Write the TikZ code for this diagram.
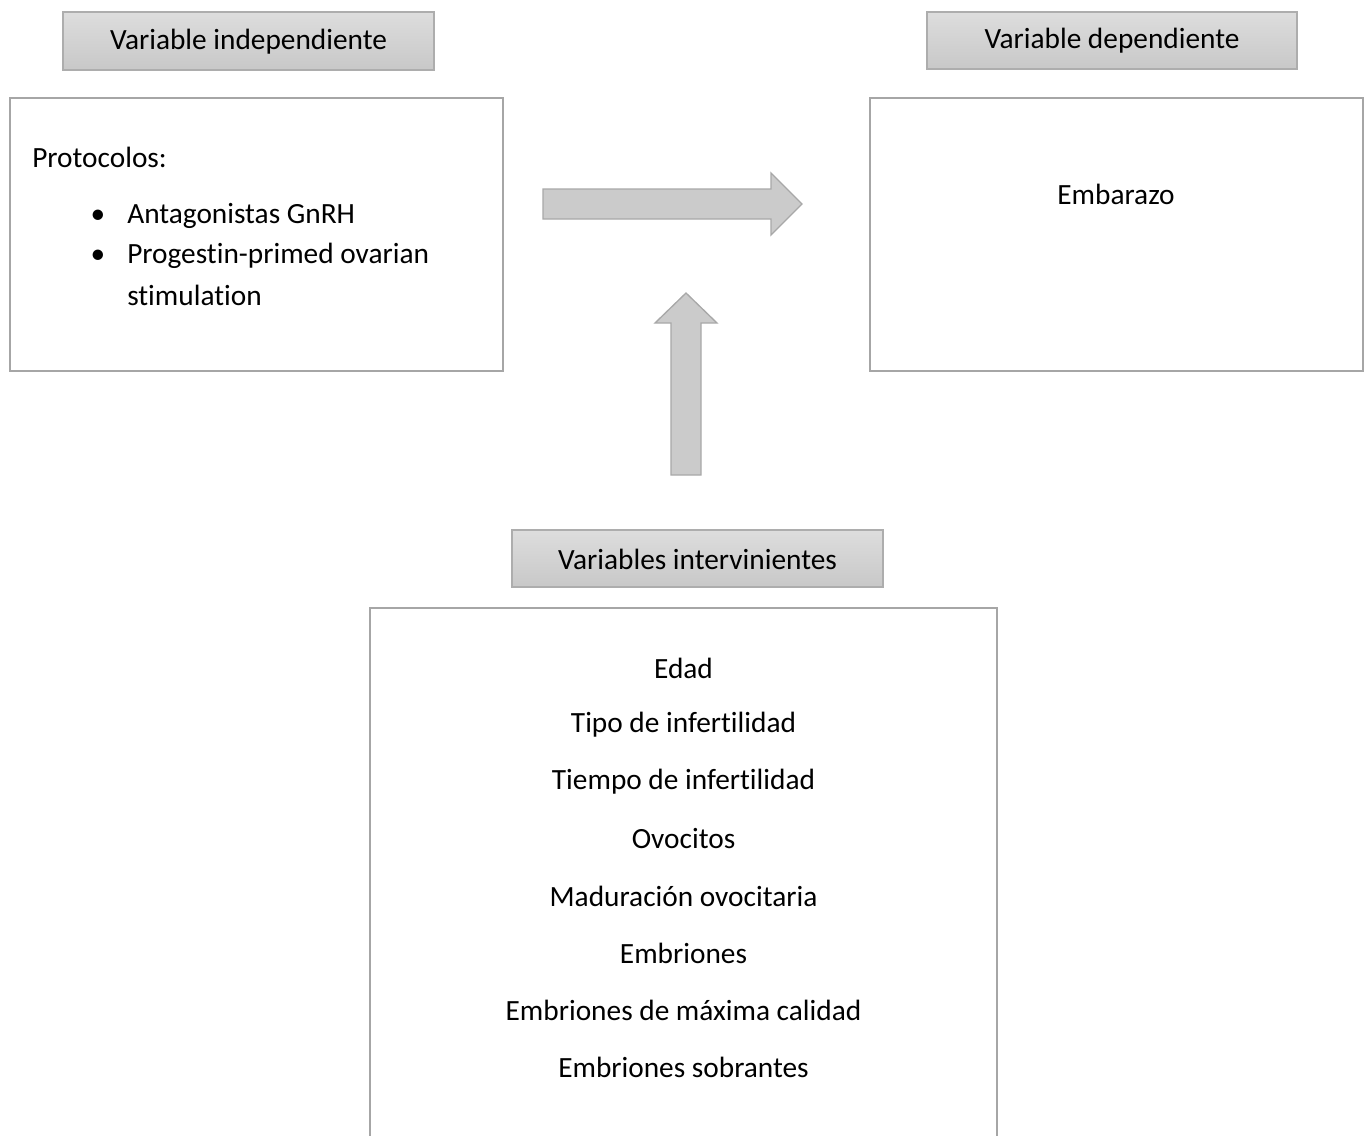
\documentclass[tikz,border=0pt]{standalone}
\usepackage{fontspec}
\setmainfont{Carlito}[Ligatures=NoCommon]
\begin{document}
\begin{tikzpicture}[x=0.75pt,y=-0.75pt,
  txt/.style={font=\fontsize{22}{26}\selectfont, text=black, inner sep=0pt},
  header/.style={draw=hdrline, line width=1.1pt, top color=hdrtop, bottom color=hdrbot, inner sep=0pt},
  framebox/.style={draw=boxline, line width=1.6pt, fill=white},
  blockarrow/.style={draw=arrline, line width=1pt, fill=arrfill, line join=miter}]
\definecolor{hdrline}{HTML}{ADADAD}
\definecolor{hdrtop}{HTML}{DDDDDD}
\definecolor{hdrbot}{HTML}{C8C8C8}
\definecolor{boxline}{HTML}{A6A6A6}
\definecolor{arrfill}{HTML}{CBCBCB}
\definecolor{arrline}{HTML}{A8A8A8}
\useasboundingbox (0,0) rectangle (1369,1135);
\clip (0,0) rectangle (1369,1135);
% header boxes
\node[header, minimum width=371*0.75pt, minimum height=58*0.75pt] (hind) at (248.5,41) {};
\node[txt] (hindt) at (248.5,42) {Variable independiente};
\node[header, minimum width=370*0.75pt, minimum height=57*0.75pt] (hdep) at (1112,40.5) {};
\node[txt] (hdept) at (1112,41) {Variable dependiente};
\node[header, minimum width=371*0.75pt, minimum height=57*0.75pt] (hint) at (697.5,558.5) {};
\node[txt] (hintt) at (697.5,559) {Variables intervinientes};
% main boxes
\draw[framebox] (10,98) rectangle (503,371);
\coordinate (leftbox) at (256.5,234.5);
\draw[framebox] (870,98) rectangle (1363,371);
\coordinate (rightbox) at (1116.5,234.5);
\draw[framebox] (370,608) rectangle (997,1160);
% left box text
\node[txt, anchor=west] (proto) at (32,157) {Protocolos:};
\node[txt] (b1) at (98,217) {•};
\node[txt, anchor=west] (i1) at (127,216) {Antagonistas GnRH};
\node[txt] (b2) at (98,257) {•};
\node[txt, anchor=west] (i2) at (127,256) {Progestin-primed ovarian};
\node[txt, anchor=west] (i3) at (127,295) {stimulation};
% right box text
\node[txt] (emb) at (1116,194) {Embarazo};
% bottom box text
\foreach \t [count=\i from 0] in {Edad, Tipo de infertilidad, Tiempo de infertilidad, Ovocitos, Maduración ovocitaria, Embriones, Embriones de máxima calidad, Embriones sobrantes}
  \node[txt] (v\i) at (683.5,668+57*\i) {\t};
% block arrows
\draw[blockarrow] (543,189) -- (771,189) -- (771,173) -- (802,204) -- (771,235) -- (771,219) -- (543,219) -- cycle;
\draw[blockarrow] (671,475) -- (671,323) -- (655,323) -- (686,293) -- (717,323) -- (701,323) -- (701,475) -- cycle;
\end{tikzpicture}
\end{document}
